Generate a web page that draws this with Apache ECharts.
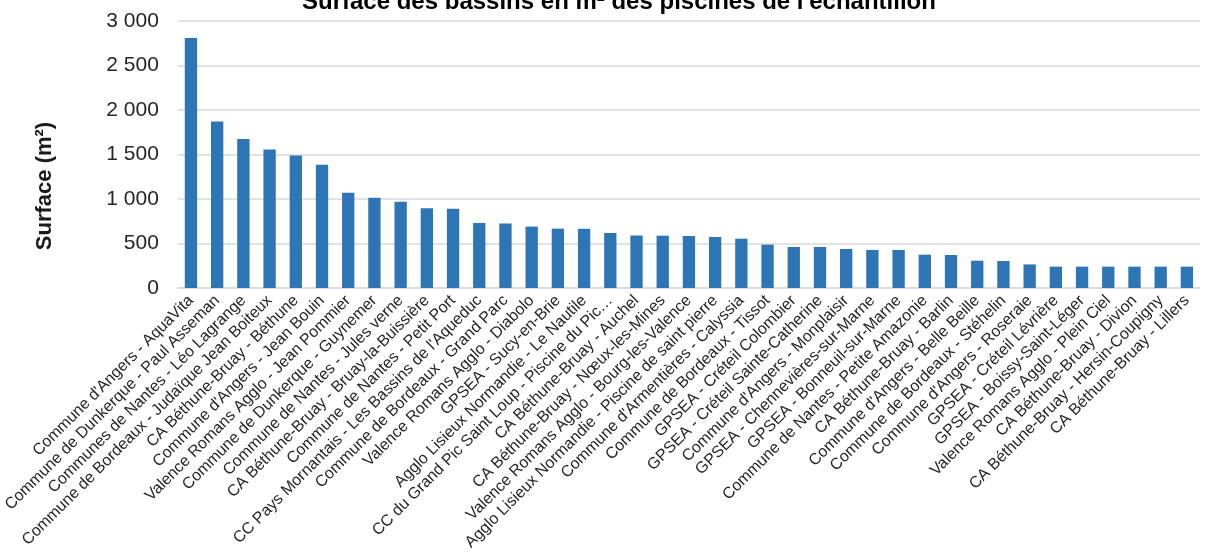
<!DOCTYPE html>
<html>
<head>
<meta charset="utf-8">
<script src="https://cdn.jsdelivr.net/npm/echarts@6/dist/echarts.min.js"></script>
<style>
  html, body { margin: 0; padding: 0; background: #fff; }
  #chart { width: 1210px; height: 556px; }
</style>
</head>
<body>
<div id="chart"></div>
<script>
// piscines (dans l'ordre du graphique)
const piscines = [
  "Commune d'Angers - AquaVita",
  'Commune de Dunkerque - Paul Asseman',
  'Communes de Nantes - Léo Lagrange',
  'Commune de Bordeaux - Judaïque Jean Boiteux',
  'CA Béthune-Bruay - Béthune',
  "Commune d'Angers - Jean Bouin",
  'Valence Romans Agglo - Jean Pommier',
  'Commune de Dunkerque - Guynemer',
  'Commune de Nantes - Jules verne',
  'CA Béthune-Bruay - Bruay-la-Buissière',
  'Commune de Nantes - Petit Port',
  "CC Pays Mornantais - Les Bassins de l'Aqueduc",
  'Commune de Bordeaux - Grand Parc',
  'Valence Romans Agglo - Diabolo',
  'GPSEA - Sucy-en-Brie',
  'Agglo Lisieux Normandie - Le Nautile',
  'CC du Grand Pic Saint Loup - Piscine du Pic…',
  'CA Béthune-Bruay - Auchel',
  'CA Béthune-Bruay - Nœux-les-Mines',
  'Valence Romans Agglo - Bourg-les-Valence',
  'Agglo Lisieux Normandie - Piscine de saint pierre',
  "Commune d'Armentières - Calyssia",
  'Commune de Bordeaux - Tissot',
  'GPSEA - Créteil Colombier',
  'GPSEA - Créteil Sainte-Catherine',
  "Commune d'Angers - Monplaisir",
  'GPSEA - Chennevières-sur-Marne',
  'GPSEA - Bonneuil-sur-Marne',
  'Commune de Nantes - Petite Amazonie',
  'CA Béthune-Bruay - Barlin',
  "Commune d'Angers - Belle Beille",
  'Commune de Bordeaux - Stéhelin',
  "Commune d'Angers - Roseraie",
  'GPSEA - Créteil Lévrière',
  'GPSEA - Boissy-Saint-Léger',
  'Valence Romans Agglo - Plein Ciel',
  'CA Béthune-Bruay - Divion',
  'CA Béthune-Bruay - Hersin-Coupigny',
  'CA Béthune-Bruay - Lillers',
];

// surface en m²
const surfaces = [
  2810, 1870, 1675, 1555, 1490, 1385, 1070, 1015, 970, 895,
  890, 730, 725, 690, 667, 665, 618, 590, 588, 584,
  573, 554, 487, 461, 461, 438, 427, 427, 374, 371,
  307, 303, 265, 240, 240, 240, 240, 240, 240,
];

const yMax = 3000;
const yStep = 500;

const titre = "Surface des bassins en m² des piscines de l'échantillon";
const titreAxe = 'Surface (m²)';

// 2500 -> "2 500"
function fmt(v) {
  return String(v).replace(/\B(?=(\d{3})+(?!\d))/g, ' ');
}

const chart = echarts.init(document.getElementById('chart'));
const option = {
  animation: false,
  textStyle: { fontFamily: 'Liberation Sans, Arial, sans-serif' },
  title: {
    text: titre,
    left: 297,
    top: -15,
    textStyle: { fontSize: 24, fontWeight: 'bold', color: '#000' },
  },
  grid: {
    left: 177,
    right: 10,
    top: 21,
    bottom: 268,
  },
  graphic: [
    {
      type: 'text',
      x: 45,
      y: 186,
      rotation: Math.PI / 2,
      style: {
        text: titreAxe,
        fontSize: 22,
        fontWeight: 'bold',
        fill: '#1a1a1a',
        align: 'center',
        verticalAlign: 'middle',
        fontFamily: 'Liberation Sans, Arial, sans-serif',
      },
    },
  ],
  xAxis: {
    type: 'category',
    data: piscines,
    axisLine: { lineStyle: { color: '#d9d9d9', width: 1.5 } },
    axisTick: { show: false },
    axisLabel: {
      interval: 0,
      rotate: 45,
      margin: 10,
      fontSize: 16,
      color: '#262626',
    },
  },
  yAxis: {
    type: 'value',
    min: 0,
    max: yMax,
    interval: yStep,
    axisLine: { show: false },
    axisTick: { show: false },
    splitLine: { lineStyle: { color: '#d9d9d9', width: 1.5 } },
    axisLabel: {
      margin: 19,
      fontSize: 21,
      color: '#262626',
      formatter: fmt,
    },
  },
  series: [
    {
      type: 'bar',
      data: surfaces,
      barCategoryGap: '53%',
      itemStyle: { color: '#2e75b6' },
    },
  ],
};
chart.setOption(option);
</script>
</body>
</html>
